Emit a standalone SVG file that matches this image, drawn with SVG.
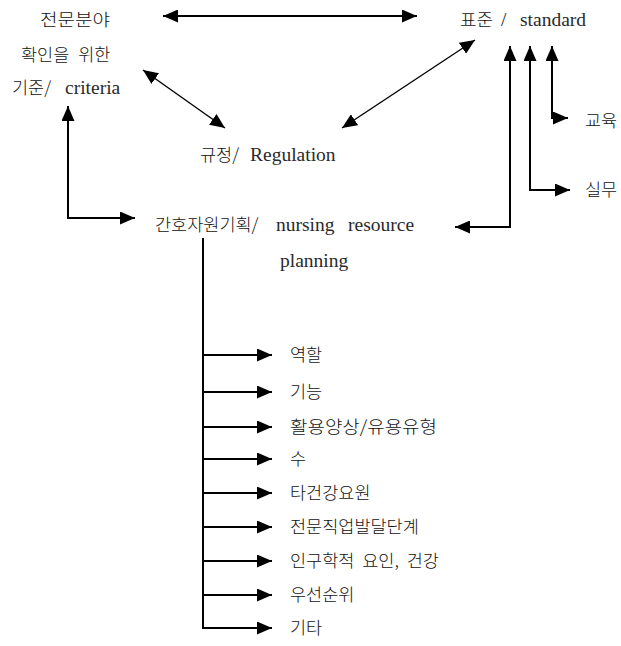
<svg xmlns="http://www.w3.org/2000/svg" width="621" height="646" viewBox="0 0 621 646">
<style>
text{font-family:"Noto Sans CJK KR","Liberation Serif",sans-serif;font-size:17.5px;font-weight:300;fill:#111}
.en{font-family:"Liberation Serif","Noto Sans CJK KR",serif;font-size:19.5px;font-weight:400;fill:#2a2a2a}
.c{fill:none;stroke:#000;stroke-width:2}
.d{fill:none;stroke:#000;stroke-width:1.4}
</style>
<defs>
<marker id="ah" markerUnits="userSpaceOnUse" markerWidth="15" markerHeight="13" refX="15" refY="6.5" orient="auto-start-reverse" viewBox="0 0 15 13">
<path d="M0,0 L15,6.5 L0,13 z" fill="#000"/>
</marker>
</defs>
<rect width="621" height="646" fill="#fff"/>
<g id="connectors">
<line class="c" x1="163" y1="16" x2="417" y2="16" marker-start="url(#ah)" marker-end="url(#ah)"/>
<line class="d" x1="143" y1="70" x2="225" y2="128" marker-start="url(#ah)" marker-end="url(#ah)"/>
<line class="d" x1="342" y1="128" x2="475" y2="40" marker-start="url(#ah)" marker-end="url(#ah)"/>
<path class="c" d="M135,218 H68 V106" marker-start="url(#ah)" marker-end="url(#ah)"/>
<path class="c" d="M455,227 H510 V46" marker-start="url(#ah)" marker-end="url(#ah)"/>
<path class="c" d="M570,190 H530 V46" marker-start="url(#ah)" marker-end="url(#ah)"/>
<path class="c" d="M568,118 H552 V46" marker-start="url(#ah)" marker-end="url(#ah)"/>
<path class="c" d="M203,238 V629"/>
<path class="c" d="M203,355 H272" marker-end="url(#ah)"/>
<path class="c" d="M203,392 H272" marker-end="url(#ah)"/>
<path class="c" d="M203,427 H272" marker-end="url(#ah)"/>
<path class="c" d="M203,459 H272" marker-end="url(#ah)"/>
<path class="c" d="M203,493 H272" marker-end="url(#ah)"/>
<path class="c" d="M203,527 H272" marker-end="url(#ah)"/>
<path class="c" d="M203,561 H272" marker-end="url(#ah)"/>
<path class="c" d="M203,595 H272" marker-end="url(#ah)"/>
<path class="c" d="M203,628 H272" marker-end="url(#ah)"/>
</g>
<g id="criteria">
<text x="40" y="26" textLength="70" lengthAdjust="spacingAndGlyphs">전문분야</text>
<text x="21" y="61" word-spacing="5">확인을 위한</text>
<text x="12" y="94">기준/<tspan class="en" x="65">criteria</tspan></text>
</g>
<g id="standard">
<text x="460" y="26" textLength="33" lengthAdjust="spacingAndGlyphs">표준</text>
<text x="501" y="26" class="en">/</text>
<text x="520" y="26" class="en">standard</text>
</g>
<g id="regulation">
<text x="200" y="161">규정/<tspan class="en" x="250">Regulation</tspan></text>
</g>
<g id="education"><text x="585" y="127">교육</text></g>
<g id="practice"><text x="585" y="196">실무</text></g>
<g id="planning">
<text x="155" y="231">간호자원기획/<tspan class="en" x="276">nursing</tspan><tspan class="en" x="348">resource</tspan></text>
<text x="280" y="267" class="en">planning</text>
</g>
<g id="items">
<text x="290" y="361">역할</text>
<text x="290" y="398">기능</text>
<text x="290" y="433" textLength="147" lengthAdjust="spacingAndGlyphs">활용양상/유용유형</text>
<text x="290" y="465">수</text>
<text x="290" y="499">타건강요원</text>
<text x="290" y="533">전문직업발달단계</text>
<text x="290" y="567" word-spacing="4">인구학적 요인, 건강</text>
<text x="290" y="601">우선순위</text>
<text x="290" y="634">기타</text>
</g>
</svg>
